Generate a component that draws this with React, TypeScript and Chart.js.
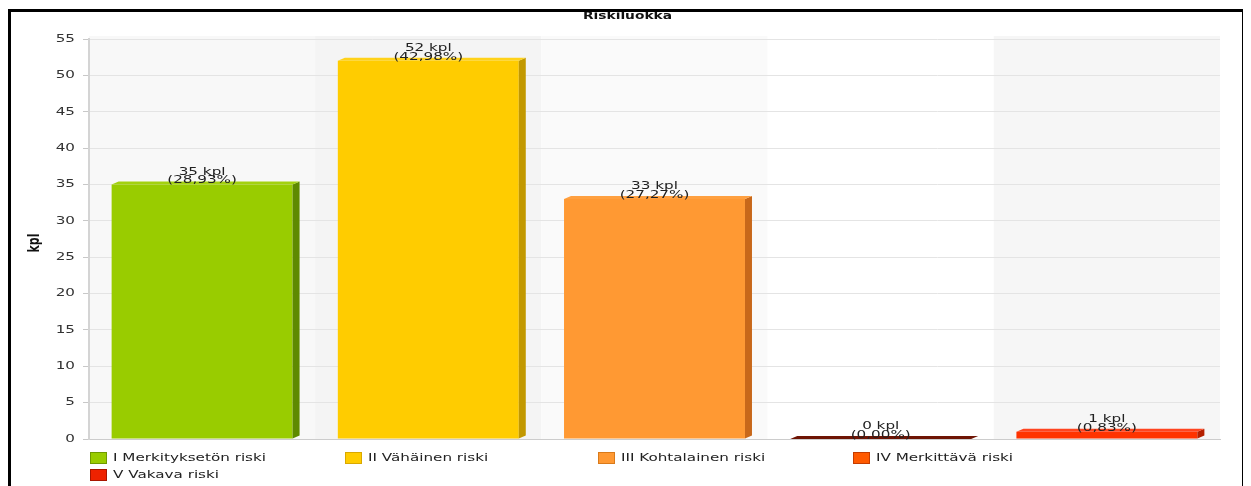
import React, { useEffect, useRef } from "react";
import { Chart, registerables } from "chart.js";

Chart.register(...registerables);

const categories = [
  "I Merkityksetön riski",
  "II Vähäinen riski",
  "III Kohtalainen riski",
  "IV Merkittävä riski",
  "V Vakava riski",
];
const counts = [35, 52, 33, 0, 1];
const percentLabels = ["28,93", "42,98", "27,27", "0,00", "0,83"];
const yTicks = [0, 5, 10, 15, 20, 25, 30, 35, 40, 45, 50, 55];
const chartTitle = "Riskiluokka";
const yAxisTitle = "kpl";
const unit = "kpl";

// styles
const frontColors = ["#99cc00", "#ffcc00", "#ff9933", "#ff6600", "#ff3300"];
const sideColors = ["#5e8a00", "#c29800", "#c8681a", "#6e1404", "#b52000"];
const topColors = ["#a3d10f", "#ffd21a", "#ffa040", "#6e1404", "#ff4520"];
const legendColors = ["#99cc00", "#ffcc00", "#ff9933", "#ff5a00", "#ee2200"];
const legendBorders = ["#6f9a00", "#d9a800", "#d97a1a", "#c43c00", "#a81500"];
const bandColors = ["#f8f8f8", "#f4f4f4", "#fafafa", "#ffffff", "#f6f6f6"];
const FONT = "'DejaVu Sans', Verdana, sans-serif";
const SX = 1.38;

function stretchedText(
  ctx: CanvasRenderingContext2D,
  text: string,
  x: number,
  y: number,
  align: CanvasTextAlign,
  font: string,
  color: string
) {
  ctx.save();
  ctx.translate(x, y);
  ctx.scale(SX, 1);
  ctx.font = font;
  ctx.fillStyle = color;
  ctx.textAlign = align;
  ctx.textBaseline = "middle";
  ctx.fillText(text, 0, 0);
  ctx.restore();
}

const decorPlugin = {
  id: "decor",
  beforeDraw(chart: any) {
    const { ctx, chartArea } = chart;
    const w = (chartArea.right - chartArea.left) / categories.length;
    ctx.save();
    categories.forEach((_, i) => {
      ctx.fillStyle = bandColors[i];
      ctx.fillRect(chartArea.left + i * w, chartArea.top - 3, w, chartArea.bottom - chartArea.top + 3);
    });
    ctx.restore();
  },
  afterDatasetsDraw(chart: any) {
    const { ctx } = chart;
    const meta = chart.getDatasetMeta(0);
    const dx = 7;
    const dy = 3;
    meta.data.forEach((bar: any, i: number) => {
      const half = bar.width / 2;
      const x0 = bar.x - half;
      const x1 = bar.x + half;
      const top = bar.y;
      const base = bar.base;
      ctx.save();
      if (base - top > 0.5) {
        ctx.fillStyle = sideColors[i];
        ctx.beginPath();
        ctx.moveTo(x1, top);
        ctx.lineTo(x1 + dx, top - dy);
        ctx.lineTo(x1 + dx, base - dy);
        ctx.lineTo(x1, base);
        ctx.closePath();
        ctx.fill();
      }
      ctx.fillStyle = topColors[i];
      ctx.beginPath();
      ctx.moveTo(x0, top);
      ctx.lineTo(x0 + dx, top - dy);
      ctx.lineTo(x1 + dx, top - dy);
      ctx.lineTo(x1, top);
      ctx.closePath();
      ctx.fill();
      ctx.restore();
      const f = `11px ${FONT}`;
      stretchedText(ctx, `${counts[i]} ${unit}`, bar.x, top - 12.5, "center", f, "#222");
      stretchedText(ctx, `(${percentLabels[i]}%)`, bar.x, top - 4, "center", f, "#222");
    });
  },
  afterDraw(chart: any) {
    const { ctx, chartArea, scales } = chart;
    const yScale = scales.y;
    yTicks.forEach((v) => {
      const y = yScale.getPixelForValue(v);
      stretchedText(ctx, String(v), chartArea.left - 14, y, "right", `11px ${FONT}`, "#333");
    });
    ctx.save();
    ctx.translate(24, (chartArea.top + chartArea.bottom) / 2 + 4);
    ctx.scale(SX, 1);
    ctx.rotate(-Math.PI / 2);
    ctx.font = `bold 11px ${FONT}`;
    ctx.fillStyle = "#111";
    ctx.textAlign = "center";
    ctx.textBaseline = "middle";
    ctx.fillText(yAxisTitle, 0, 0);
    ctx.restore();
    stretchedText(ctx, chartTitle, chart.width / 2 + 1, 4, "center", `bold 10px ${FONT}`, "#111");
    const colX = [79, 334, 587, 842];
    const rowY = [446, 463];
    categories.forEach((name, i) => {
      const col = i % 4;
      const row = Math.floor(i / 4);
      const x = colX[col];
      const y = rowY[row];
      ctx.save();
      ctx.fillStyle = legendColors[i];
      ctx.fillRect(x, y - 6, 17, 12);
      ctx.strokeStyle = legendBorders[i];
      ctx.lineWidth = 1;
      ctx.strokeRect(x + 0.5, y - 5.5, 16, 11);
      ctx.restore();
      stretchedText(ctx, name, x + 23, y, "left", `11px ${FONT}`, "#222");
    });
  },
};

export default function App() {
  const ref = useRef<HTMLCanvasElement | null>(null);
  useEffect(() => {
    if (!ref.current) return;
    const chart = new Chart(ref.current, {
      type: "bar",
      data: {
        labels: categories,
        datasets: [
          {
            data: counts,
            backgroundColor: frontColors,
            borderWidth: 0,
            categoryPercentage: 0.8,
            barPercentage: 1,
          },
        ],
      },
      options: {
        responsive: false,
        animation: false,
        layout: { padding: { top: 27, bottom: 48, left: 0, right: 22 } },
        plugins: {
          legend: { display: false },
          title: { display: false },
          tooltip: { enabled: false },
        },
        scales: {
          x: {
            grid: { display: false },
            ticks: { display: false },
            border: { color: "#cccccc", width: 1 },
            afterFit: (s: any) => {
              s.height = 0;
            },
          },
          y: {
            min: 0,
            max: 55,
            ticks: { display: false, stepSize: 5 },
            grid: { color: "#e4e4e4", tickLength: 6, tickColor: "#c8c8c8", drawTicks: true },
            border: { color: "#d4d4d4", width: 2 },
            afterFit: (s: any) => {
              s.width = 78;
            },
          },
        },
      },
      plugins: [decorPlugin],
    });
    return () => chart.destroy();
  }, []);
  return (
    <div
      style={{
        border: "3px solid #000",
        width: 1231,
        height: 520,
        marginTop: 1,
        background: "#fff",
        boxSizing: "content-box",
      }}
    >
      <canvas ref={ref} width={1231} height={475} style={{ display: "block" }} />
    </div>
  );
}
